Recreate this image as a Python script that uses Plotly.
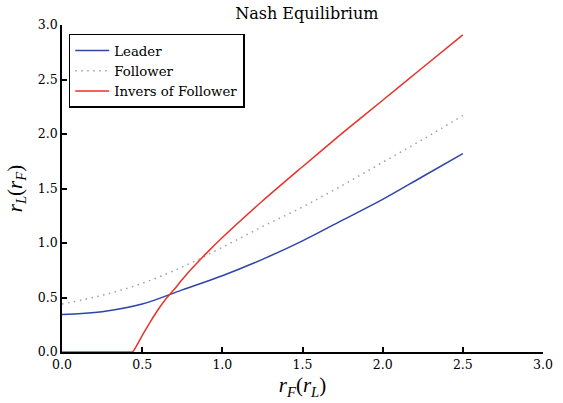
import plotly.graph_objects as go

# Leader reaction curve
leader_x = [0.0, 0.25, 0.5, 0.75, 1.0, 1.25, 1.5, 1.75, 2.0, 2.25, 2.5]
leader_y = [0.343, 0.37, 0.44, 0.57, 0.70, 0.85, 1.02, 1.21, 1.40, 1.61, 1.82]

# Follower reaction curve
follower_x = [0.0, 0.25, 0.5, 0.75, 1.0, 1.25, 1.5, 1.75, 2.0, 2.25, 2.5]
follower_y = [0.44, 0.52, 0.63, 0.78, 0.96, 1.15, 1.33, 1.53, 1.74, 1.95, 2.17]

# Inverse of the follower curve (clipped at zero)
inverse_x = [0.0, 0.43, 0.44, 0.5, 0.55, 0.6, 0.65, 0.7, 0.75, 0.8, 0.9, 1.0,
             1.25, 1.5, 1.75, 2.0, 2.25, 2.5]
inverse_y = [0.0, 0.0, 0.0, 0.15, 0.275, 0.39, 0.49, 0.575, 0.665, 0.75, 0.905, 1.05,
             1.385, 1.70, 2.01, 2.31, 2.61, 2.91]

tick_vals = [0.0, 0.5, 1.0, 1.5, 2.0, 2.5, 3.0]

FONT = "DejaVu Serif"

fig = go.Figure()
fig.add_trace(go.Scatter(x=leader_x, y=leader_y, mode="lines", name="Leader",
                         line=dict(color="#2f45a8", width=1.5, shape="spline")))
fig.add_trace(go.Scatter(x=follower_x, y=follower_y, mode="lines", name="Follower",
                         line=dict(color="#a0a0a0", width=1.5, dash="1.5px,4.5px", shape="spline")))
fig.add_trace(go.Scatter(x=inverse_x, y=inverse_y, mode="lines", name="Invers of Follower",
                         line=dict(color="#e8322a", width=1.5, shape="spline", smoothing=0.8)))

axis_common = dict(
    range=[0, 3], tickvals=tick_vals, tickformat=".1f",
    showline=True, linecolor="black", linewidth=1.5,
    ticks="inside", ticklen=5, tickwidth=1.5, tickcolor="black",
    showgrid=False, zeroline=False, mirror=False,
    tickfont=dict(family=FONT, size=12.5, color="black"),
)

fig.update_layout(
    width=563, height=403,
    margin=dict(l=62, r=10, t=25, b=50),
    plot_bgcolor="white", paper_bgcolor="white",
    font=dict(family=FONT, color="black"),
    title=dict(text="Nash Equilibrium", x=0.545, xanchor="center", y=0.967, yanchor="middle",
               font=dict(family=FONT, size=16, color="black")),
    xaxis=dict(**axis_common,
               title=dict(text="<i>r</i><sub><i>F</i></sub>(<i>r</i><sub><i>L</i></sub>)",
                          font=dict(family="Liberation Serif", size=21, color="black"), standoff=7)),
    yaxis=dict(**axis_common,
               title=dict(text="<i>r</i><sub><i>L</i></sub>(<i>r</i><sub><i>F</i></sub>)",
                          font=dict(family="Liberation Serif", size=21, color="black"), standoff=10)),
    legend=dict(x=0.014, y=0.973, xanchor="left", yanchor="top",
                bgcolor="white", bordercolor="black", borderwidth=1.5,
                font=dict(family=FONT, size=13.3, color="black"),
                itemwidth=34, tracegroupgap=0),
    showlegend=True,
)

# Drop shadow behind the legend box
fig.add_shape(type="rect", xref="paper", yref="paper",
              x0=(72 - 62) / 491, x1=(247 - 62) / 491,
              y0=(353 - 103) / 328, y1=(353 - 37) / 328,
              fillcolor="#b0b0b0", line=dict(width=0), layer="above")

fig.write_html("out.html")
